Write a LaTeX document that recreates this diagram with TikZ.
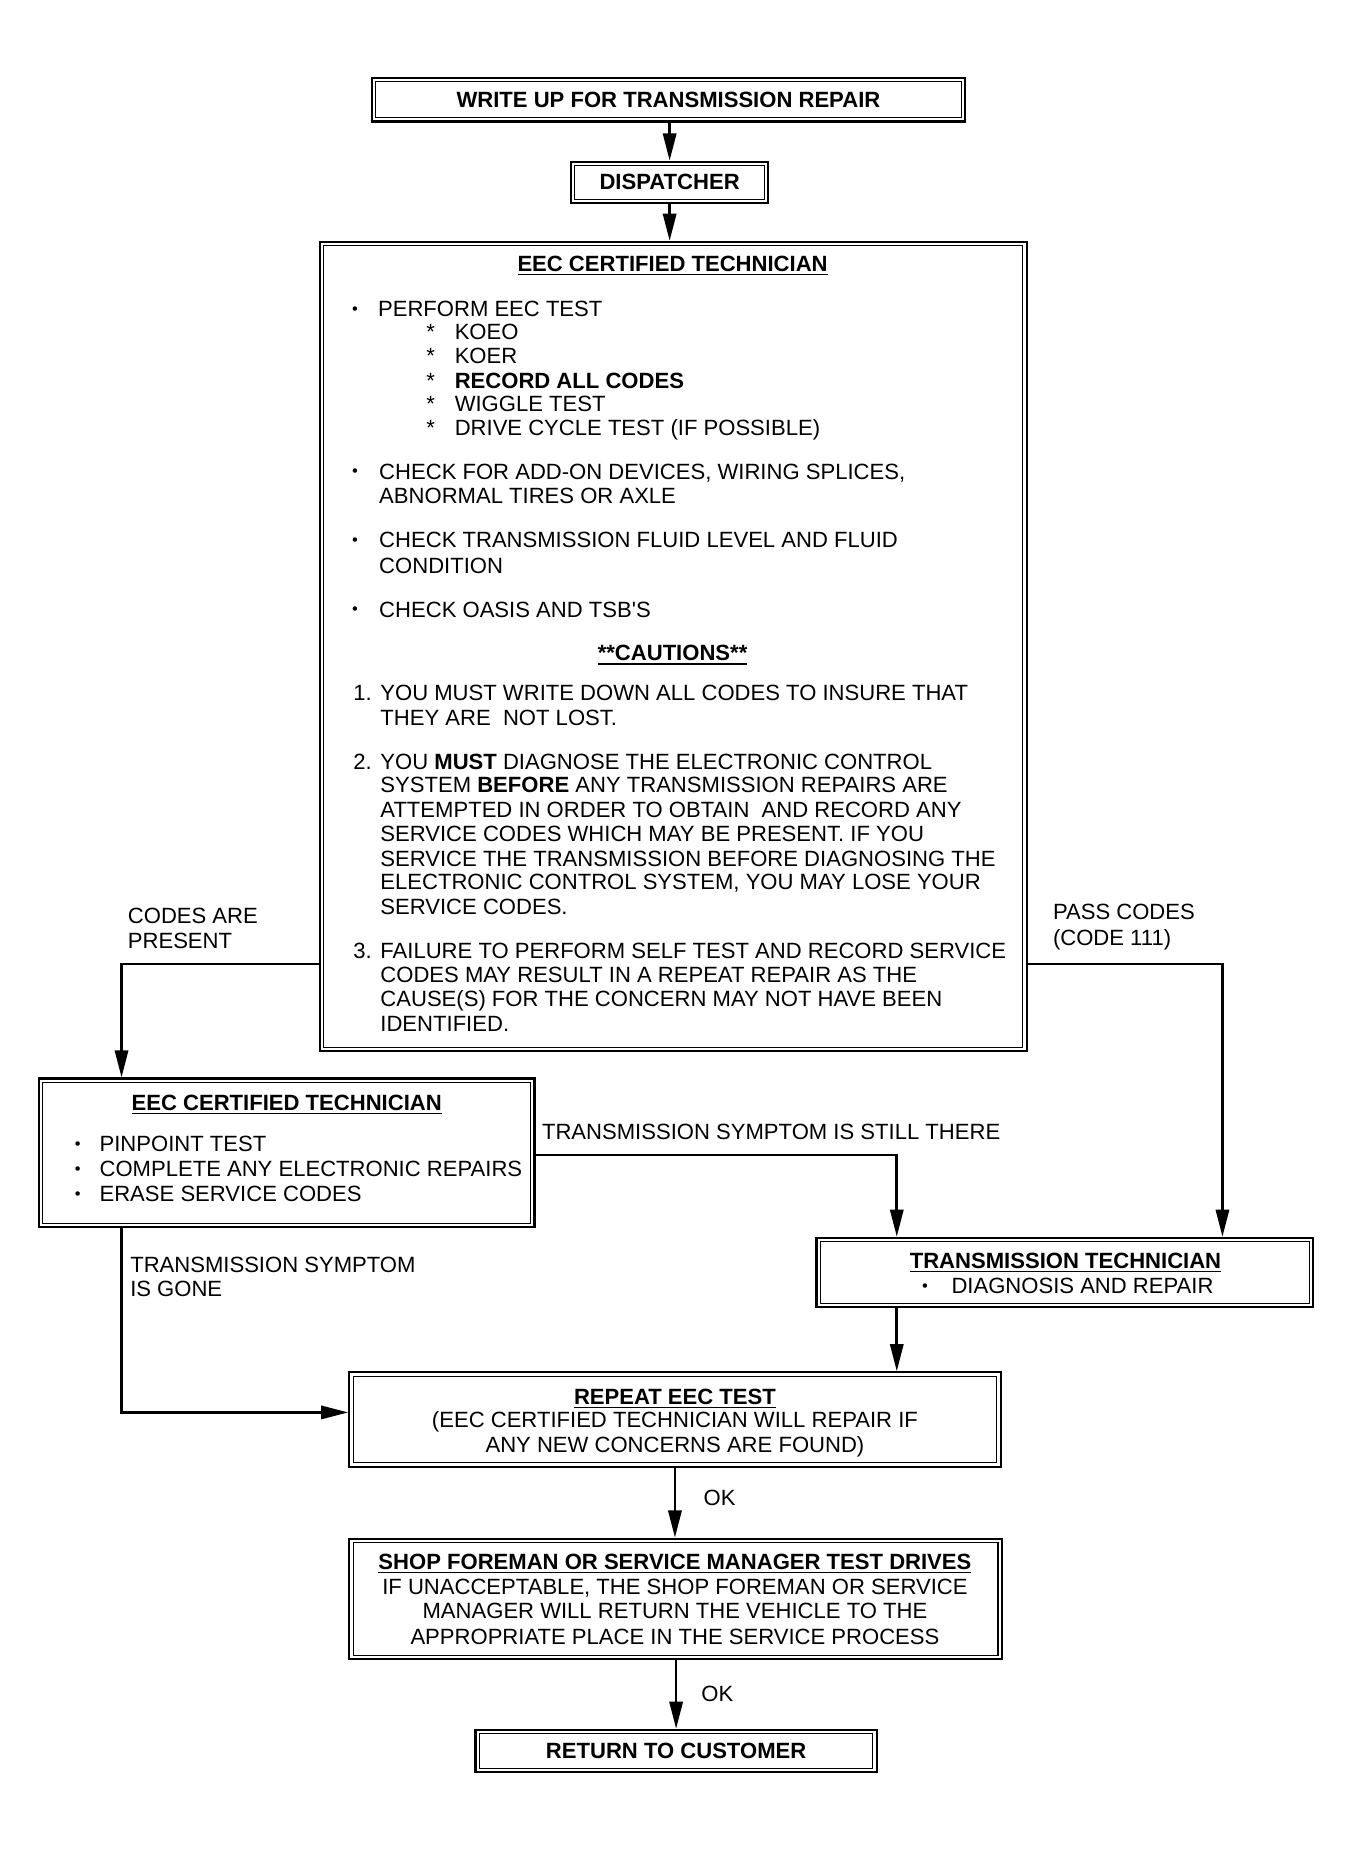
\documentclass[tikz,border=0pt]{standalone}
\usepackage{fontspec}
\setmainfont{Liberation Sans}
\usetikzlibrary{arrows.meta}
\newcommand\fs{\fontsize{9.35pt}{10.25pt}\selectfont}
\newcommand\myul[1]{\setbox0\hbox{#1}\rlap{\rule[-1.7pt]{\wd0}{0.7pt}}\box0}
\newcommand\bul{\raisebox{0.9pt}{\fontsize{7pt}{7pt}\selectfont •}}
\newcommand\tline[4]{\node[txt] (#1) at (#2,#3) {#4};}
\newcommand\tcen[4]{\node[txtc] (#1) at (#2,#3) {#4};}
\tikzset{
  txt/.style={inner sep=0pt, anchor=base west, font=\fs},
  txtc/.style={inner sep=0pt, anchor=base, font=\fs},
  dbox/.style={draw, line width=0.9pt, inner sep=0pt, font=\fs\bfseries,
    path picture={\draw[line width=0.45pt]
      ([shift={(1.6pt,1.6pt)}]path picture bounding box.south west) rectangle
      ([shift={(-1.6pt,-1.6pt)}]path picture bounding box.north east);}},
  arr/.style={line width=1.1pt, -{Triangle[length=11.5pt,width=5.6pt]}}
}
\begin{document}
\begin{tikzpicture}[x=0.5pt,y=-0.5pt]
\useasboundingbox (0,0) rectangle (1146,1567);

% boxes
\node[dbox, minimum width=251.5pt, minimum height=18.5pt] (b1) at (566.5,84.5) {WRITE UP FOR TRANSMISSION REPAIR};
\node[dbox, minimum width=83.5pt, minimum height=17.5pt] (b2) at (567.5,154.5) {DISPATCHER};
\node[dbox, minimum width=299.5pt, minimum height=343pt] (b3) at (570.5,548) {};
\node[dbox, minimum width=210pt, minimum height=63pt] (b4) at (243,977) {};
\node[dbox, minimum width=210.5pt, minimum height=29.5pt] (b5) at (902.5,1078.5) {};
\node[dbox, minimum width=276pt, minimum height=40pt] (b6) at (572,1203) {};
\node[dbox, minimum width=276.5pt, minimum height=51pt] (b7) at (572.5,1355) {};
\node[dbox, minimum width=170pt, minimum height=18pt] (b8) at (573,1484) {RETURN TO CUSTOMER};

% big box text
\tcen{b3t}{570}{230}{\bfseries\myul{EEC CERTIFIED TECHNICIAN}}
\tline{a1b}{298}{268}{\bul}
\tline{a1}{320}{268}{PERFORM EEC TEST}
\tline{s1b}{361}{288}{*}\tline{s1}{385}{288}{KOEO}
\tline{s2b}{361}{308}{*}\tline{s2}{385}{308}{KOER}
\tline{s3b}{361}{329}{*}\tline{s3}{385}{329}{\bfseries RECORD ALL CODES}
\tline{s4b}{361}{349}{*}\tline{s4}{385}{349}{WIGGLE TEST}
\tline{s5b}{361}{369}{*}\tline{s5}{385}{369}{DRIVE CYCLE TEST (IF POSSIBLE)}
\tline{a2b}{298}{406}{\bul}
\tline{a2}{321}{406}{CHECK FOR ADD-ON DEVICES, WIRING SPLICES,}
\tline{a2x}{321}{427}{ABNORMAL TIRES OR AXLE}
\tline{a3b}{298}{464}{\bul}
\tline{a3}{321}{464}{CHECK TRANSMISSION FLUID LEVEL AND FLUID}
\tline{a3x}{321}{486}{CONDITION}
\tline{a4b}{298}{523}{\bul}
\tline{a4}{321}{523}{CHECK OASIS AND TSB\textquotesingle S}
\tcen{cau}{570}{560}{\bfseries\myul{**CAUTIONS**}}
\tline{c1n}{299}{594}{1.}
\tline{c1a}{322}{594}{YOU MUST WRITE DOWN ALL CODES TO INSURE THAT}
\tline{c1b}{322}{615}{THEY ARE\ \ NOT LOST.}
\tline{c2n}{299}{652}{2.}
\tline{c2a}{322}{652}{YOU \textbf{MUST} DIAGNOSE THE ELECTRONIC CONTROL}
\tline{c2b}{322}{672}{SYSTEM \textbf{BEFORE} ANY TRANSMISSION REPAIRS ARE}
\tline{c2c}{322}{693}{ATTEMPTED IN ORDER TO OBTAIN\ \ AND RECORD ANY}
\tline{c2d}{322}{713}{SERVICE CODES WHICH MAY BE PRESENT. IF YOU}
\tline{c2e}{322}{734}{SERVICE THE TRANSMISSION BEFORE DIAGNOSING THE}
\tline{c2f}{322}{754}{ELECTRONIC CONTROL SYSTEM, YOU MAY LOSE YOUR}
\tline{c2g}{322}{775}{SERVICE CODES.}
\tline{c3n}{299}{812}{3.}
\tline{c3a}{322}{812}{FAILURE TO PERFORM SELF TEST AND RECORD SERVICE}
\tline{c3b}{322}{833}{CODES MAY RESULT IN A REPEAT REPAIR AS THE}
\tline{c3c}{322}{853}{CAUSE(S) FOR THE CONCERN MAY NOT HAVE BEEN}
\tline{c3d}{322}{874}{IDENTIFIED.}

% box 4 text
\tcen{b4t}{243}{941}{\bfseries\myul{EEC CERTIFIED TECHNICIAN}}
\tline{d1b}{63}{976}{\bul}\tline{d1}{84}{976}{PINPOINT TEST}
\tline{d2b}{63}{997}{\bul}\tline{d2}{84}{997}{COMPLETE ANY ELECTRONIC REPAIRS}
\tline{d3b}{63}{1018}{\bul}\tline{d3}{84}{1018}{ERASE SERVICE CODES}

% box 5 text
\tcen{b5t}{903}{1075}{\bfseries\myul{TRANSMISSION TECHNICIAN}}
\tline{e1b}{781}{1096}{\bul}\tline{e1}{806}{1096}{DIAGNOSIS AND REPAIR}

% box 6 text
\tcen{b6t}{572}{1190}{\bfseries\myul{REPEAT EEC TEST}}
\tcen{f1}{572}{1210}{(EEC CERTIFIED TECHNICIAN WILL REPAIR IF}
\tcen{f2}{572}{1231}{ANY NEW CONCERNS ARE FOUND)}

% box 7 text
\tcen{b7t}{572}{1330}{\bfseries\myul{SHOP FOREMAN OR SERVICE MANAGER TEST DRIVES}}
\tcen{g1}{572}{1351}{IF UNACCEPTABLE, THE SHOP FOREMAN OR SERVICE}
\tcen{g2}{572}{1372}{MANAGER WILL RETURN THE VEHICLE TO THE}
\tcen{g3}{572}{1394}{APPROPRIATE PLACE IN THE SERVICE PROCESS}

% connector labels
\tline{l1a}{108}{783}{CODES ARE}
\tline{l1b}{108}{804}{PRESENT}
\tline{l2a}{892}{779}{PASS CODES}
\tline{l2b}{892}{801}{(CODE 111)}
\tline{l3}{459}{966}{TRANSMISSION SYMPTOM IS STILL THERE}
\tline{l4a}{110}{1078}{TRANSMISSION SYMPTOM}
\tline{l4b}{110}{1099}{IS GONE}
\tline{ok1}{596}{1276}{OK}
\tline{ok2}{594}{1442}{OK}

% junction coordinates
\coordinate (lj) at (103,817);
\coordinate (rj) at (1036,817);
\coordinate (mj) at (760,979);
\coordinate (gj) at (103,1197);

% connectors
\draw[arr] (b1.south -| b2.north) -- (b2.north);
\draw[arr] (b2.south) -- (b2.south |- b3.north);
\draw[arr] (b3.west |- lj) -| (b4.north -| lj);
\draw[arr] (b3.east |- rj) -| (b5.north -| rj);
\draw[arr] (b4.east |- mj) -| (b5.north -| mj);
\draw[arr] (b5.south -| mj) -- (b6.north -| mj);
\draw[arr] (b4.south -| gj) |- (b6.west |- gj);
\draw[arr] (b6.south) -- (b6.south |- b7.north);
\draw[arr] (b7.south -| b8.north) -- (b8.north);
\end{tikzpicture}
\end{document}
